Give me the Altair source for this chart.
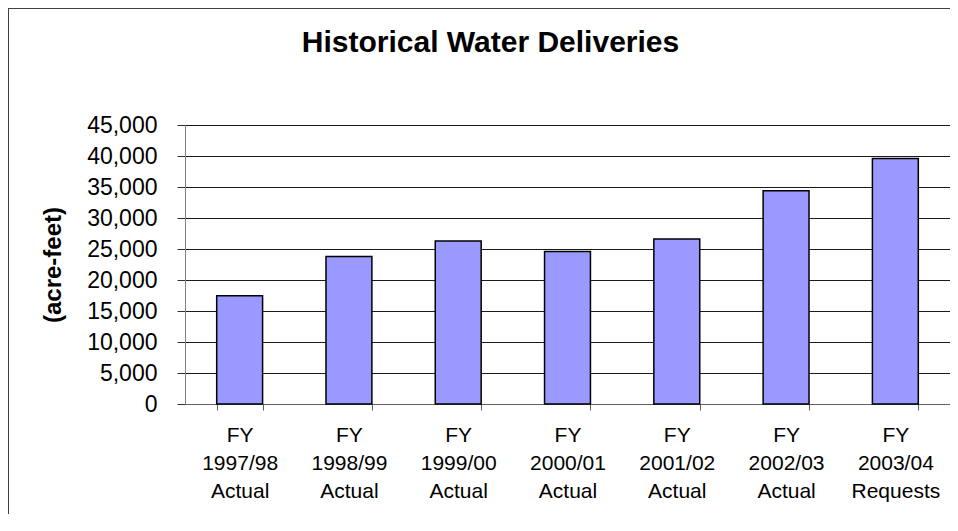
import altair as alt
import pandas as pd

categories = [
    "FY 1997/98 Actual",
    "FY 1998/99 Actual",
    "FY 1999/00 Actual",
    "FY 2000/01 Actual",
    "FY 2001/02 Actual",
    "FY 2002/03 Actual",
    "FY 2003/04 Requests",
]
deliveries = [17450, 23800, 26300, 24600, 26600, 34400, 39600]
y_ticks = [0, 5000, 10000, 15000, 20000, 25000, 30000, 35000, 40000, 45000]

df = pd.DataFrame({"year": categories, "acre_feet": deliveries})

FONT = "Liberation Sans"

bars = alt.Chart(df).mark_bar(
    fill="#9999FF", stroke="#000000", strokeWidth=1.5
).encode(
    x=alt.X(
        "year:N",
        sort=categories,
        scale=alt.Scale(paddingInner=0.58, paddingOuter=0.29),
        axis=alt.Axis(
            title=None,
            labelAngle=0,
            labelExpr="split(datum.label, ' ')",
            labelFont=FONT,
            labelFontSize=21,
            labelLineHeight=28,
            labelPadding=14,
            labelBaseline="top",
            labelColor="#000000",
            tickBand="extent",
            tickSize=6,
            tickColor="#606060",
            domainColor="#606060",
            grid=False,
        ),
    ),
    y=alt.Y(
        "acre_feet:Q",
        scale=alt.Scale(domain=[0, 45000], nice=False),
        axis=alt.Axis(
            title="(acre-feet)",
            values=y_ticks,
            format=",d",
            labelFont=FONT,
            labelFontSize=23,
            labelPadding=20,
            labelColor="#000000",
            tickSize=8,
            tickColor="#303030",
            domainColor="#808080",
            grid=True,
            gridColor="#1a1a1a",
            gridWidth=1,
            gridOpacity=1,
            titleFont=FONT,
            titleFontSize=24,
            titleFontWeight="bold",
            titleColor="#000000",
            titleAngle=270,
            titleX=-132,
            titleY=139.5,
            titleAlign="center",
            titleBaseline="middle",
        ),
    ),
)

frame_left = alt.Chart(alt.Data(values=[{}])).mark_rule(
    color="#404040", strokeWidth=1
).encode(x=alt.value(-176.5), y=alt.value(-117), y2=alt.value(420))

frame_top = alt.Chart(alt.Data(values=[{}])).mark_rule(
    color="#404040", strokeWidth=1
).encode(x=alt.value(-177), x2=alt.value(800), y=alt.value(-116.5))

chart = alt.layer(frame_left, frame_top, bars).properties(
    width=765,
    height=279,
    autosize=alt.AutoSizeParams(type="none"),
    padding={"left": 177, "top": 117, "right": 0, "bottom": 110},
    title=alt.TitleParams(
        "Historical Water Deliveries",
        anchor="middle",
        frame="group",
        dx=-77,
        dy=74,
        offset=0,
        baseline="alphabetic",
        font=FONT,
        fontSize=30,
        fontWeight="bold",
        color="#000000",
    ),
).configure_view(stroke=None).configure(background="#ffffff")

chart.save("out.html", embed_options={"renderer": "svg", "actions": False})
